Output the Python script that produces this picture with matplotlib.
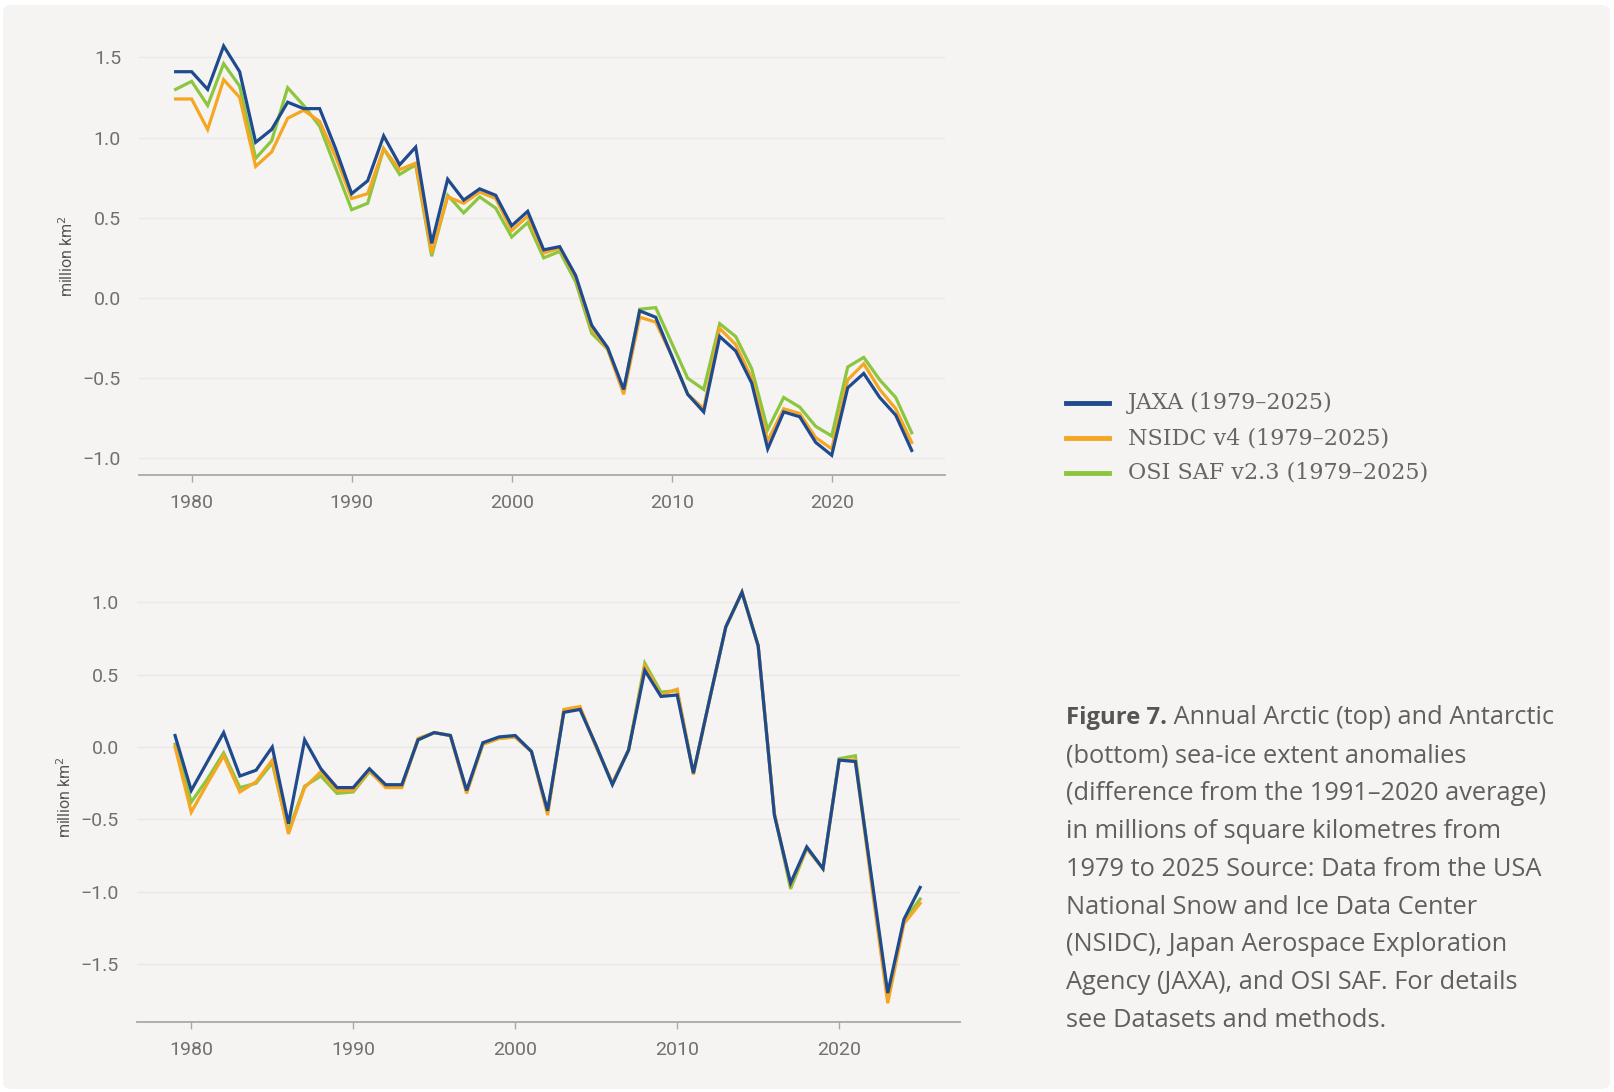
import numpy as np
import matplotlib
matplotlib.use("Agg")
import matplotlib.pyplot as plt
from matplotlib.patches import FancyBboxPatch
from matplotlib.lines import Line2D

# annual sea-ice extent anomalies, million km2
years = np.arange(1979, 2026)

arctic_jaxa = [1.41, 1.41, 1.30, 1.57, 1.41, 0.97, 1.05, 1.22, 1.18, 1.18,
               0.93, 0.65, 0.73, 1.01, 0.83, 0.94, 0.34, 0.74, 0.61, 0.68,
               0.64, 0.45, 0.54, 0.30, 0.32, 0.14, -0.17, -0.31, -0.57, -0.08,
               -0.12, -0.36, -0.60, -0.71, -0.24, -0.33, -0.53, -0.94, -0.71, -0.74,
               -0.90, -0.98, -0.56, -0.47, -0.62, -0.73, -0.95]
arctic_nsidc = [1.24, 1.24, 1.05, 1.36, 1.25, 0.82, 0.91, 1.12, 1.17, 1.10,
                0.88, 0.62, 0.65, 0.93, 0.80, 0.84, 0.28, 0.63, 0.59, 0.66,
                0.62, 0.42, 0.51, 0.28, 0.31, 0.13, -0.19, -0.32, -0.60, -0.12,
                -0.15, -0.36, -0.60, -0.69, -0.19, -0.29, -0.50, -0.89, -0.69, -0.72,
                -0.87, -0.94, -0.51, -0.41, -0.57, -0.69, -0.90]
arctic_osisaf = [1.30, 1.35, 1.20, 1.46, 1.32, 0.87, 0.98, 1.31, 1.20, 1.07,
                 0.81, 0.55, 0.59, 0.93, 0.77, 0.83, 0.26, 0.64, 0.53, 0.63,
                 0.56, 0.38, 0.47, 0.25, 0.29, 0.10, -0.22, -0.32, -0.58, -0.07,
                 -0.06, -0.28, -0.50, -0.57, -0.16, -0.24, -0.44, -0.82, -0.62, -0.68,
                 -0.80, -0.86, -0.43, -0.37, -0.51, -0.62, -0.84]

antarctic_jaxa = [0.08, -0.30, -0.10, 0.10, -0.20, -0.16, 0.00, -0.53, 0.05, -0.15,
                  -0.28, -0.28, -0.15, -0.26, -0.26, 0.05, 0.10, 0.08, -0.30, 0.03,
                  0.07, 0.08, -0.03, -0.44, 0.24, 0.26, 0.01, -0.26, -0.02, 0.53,
                  0.35, 0.36, -0.18, 0.33, 0.83, 1.07, 0.70, -0.47, -0.94, -0.69,
                  -0.84, -0.09, -0.10, -0.90, -1.70, -1.19, -0.97]
antarctic_nsidc = [0.00, -0.45, -0.25, -0.06, -0.31, -0.24, -0.09, -0.60, -0.28, -0.17,
                   -0.30, -0.30, -0.16, -0.28, -0.28, 0.06, 0.10, 0.08, -0.32, 0.02,
                   0.06, 0.07, -0.03, -0.47, 0.26, 0.28, 0.00, -0.25, -0.02, 0.56,
                   0.36, 0.40, -0.19, 0.33, 0.83, 1.07, 0.70, -0.46, -0.95, -0.70,
                   -0.84, -0.09, -0.09, -0.95, -1.77, -1.22, -1.08]
antarctic_osisaf = [0.02, -0.38, -0.22, -0.04, -0.28, -0.25, -0.11, -0.58, -0.27, -0.20,
                    -0.32, -0.31, -0.17, -0.27, -0.27, 0.05, 0.10, 0.08, -0.31, 0.02,
                    0.06, 0.07, -0.03, -0.45, 0.25, 0.27, 0.00, -0.25, -0.02, 0.58,
                    0.38, 0.39, -0.18, 0.33, 0.83, 1.07, 0.70, -0.46, -0.98, -0.70,
                    -0.84, -0.08, -0.06, -0.92, -1.74, -1.20, -1.05]

series_names = ["JAXA (1979\u20132025)", "NSIDC v4 (1979\u20132025)", "OSI SAF v2.3 (1979\u20132025)"]
series_colors = ["#1f4b8e", "#f5a623", "#8cc63f"]

xticks = [1980, 1990, 2000, 2010, 2020]
top_yticks = [-1.0, -0.5, 0.0, 0.5, 1.0, 1.5]
bot_yticks = [-1.5, -1.0, -0.5, 0.0, 0.5, 1.0]

caption_bold = "Figure 7."
caption_lines = [
    " Annual Arctic (top) and Antarctic",
    "(bottom) sea-ice extent anomalies",
    "(difference from the 1991\u20132020 average)",
    "in millions of square kilometres from",
    "1979 to 2025 Source: Data from the USA",
    "National Snow and Ice Data Center",
    "(NSIDC), Japan Aerospace Exploration",
    "Agency (JAXA), and OSI SAF. For details",
    "see Datasets and methods.",
]

W, H = 1614, 1092
bg = "#f5f4f2"
tickfont = "Roboto"
capfont = "Open Sans"

fig = plt.figure(figsize=(W / 100, H / 100), dpi=100)
fig.patch.set_facecolor("white")
card = FancyBboxPatch((3 / W, 3 / H), (W - 7) / W, (H - 8) / H,
                      boxstyle="round,pad=0,rounding_size=0.006",
                      transform=fig.transFigure, facecolor=bg, edgecolor="none", zorder=-10)
fig.patches.append(card)


def style_axes(ax, yticks, ylim, xlim):
    ax.set_facecolor("none")
    ax.set_xlim(*xlim)
    ax.set_ylim(*ylim)
    ax.set_yticks(yticks)
    ax.set_yticklabels(["%.1f" % v if v >= 0 else "\u2212%.1f" % -v for v in yticks])
    ax.set_xticks(xticks)
    for s in ["top", "right", "left"]:
        ax.spines[s].set_visible(False)
    ax.spines["bottom"].set_color("#a8a8a8")
    ax.spines["bottom"].set_linewidth(1.3)
    ax.grid(axis="y", color="#e9e8e6", linewidth=1.0)
    ax.set_axisbelow(True)
    ax.tick_params(axis="y", length=0, pad=13, labelsize=14, labelcolor="#707070")
    ax.tick_params(axis="x", length=5, width=1, color="#a8a8a8", pad=9,
                   labelsize=14, labelcolor="#707070")
    for lab in ax.get_xticklabels() + ax.get_yticklabels():
        lab.set_fontfamily(tickfont)
    ax.set_ylabel("million km$^2$", fontsize=11.5, color="#555555", labelpad=5,
                  fontfamily=tickfont)


ax1 = fig.add_axes([139 / W, 1 - 475 / H, 806 / W, (475 - 38) / H])
for vals, c in zip([arctic_osisaf, arctic_nsidc, arctic_jaxa], series_colors[::-1]):
    ax1.plot(years, vals, color=c, linewidth=2.3, solid_joinstyle="miter")
style_axes(ax1, top_yticks, (-1.103, 1.62), (1976.71, 2027.08))

ax2 = fig.add_axes([137 / W, 1 - 1022 / H, 823 / W, (1022 - 572) / H])
for vals, c in zip([antarctic_osisaf, antarctic_nsidc, antarctic_jaxa], series_colors[::-1]):
    ax2.plot(years, vals, color=c, linewidth=2.3, solid_joinstyle="miter")
style_axes(ax2, bot_yticks, (-1.90, 1.21), (1976.65, 2027.46))

# legend drawn by hand to the right of the top chart
leg_y = [403, 438, 473]
for name, c, yy in zip(series_names, series_colors, leg_y):
    fig.add_artist(Line2D([1066 / W, 1109 / W], [1 - yy / H, 1 - yy / H],
                          transform=fig.transFigure, color=c, linewidth=3.5))
    fig.text(1128 / W, 1 - yy / H, name, fontsize=16, color="#666666",
             fontfamily="DejaVu Serif", va="center", ha="left")

# caption
cap_x = 1066 / W
cap_y0 = 718
cap_dy = 37.8
cap_size = 18.3
renderer = fig.canvas.get_renderer()
t_bold = fig.text(cap_x, 1 - cap_y0 / H, caption_bold, fontsize=17.2, fontweight="bold",
                  color="#555555", fontfamily=capfont, va="center", ha="left")
bb = t_bold.get_window_extent(renderer=renderer)
fig.text(bb.x1 / W, 1 - cap_y0 / H, caption_lines[0], fontsize=cap_size, color="#5f5f5f",
         fontfamily=capfont, va="center", ha="left")
for i, line in enumerate(caption_lines[1:], start=1):
    fig.text(cap_x, 1 - (cap_y0 + i * cap_dy) / H, line, fontsize=cap_size, color="#5f5f5f",
             fontfamily=capfont, va="center", ha="left")

fig.savefig("out.png", dpi=100, facecolor=fig.get_facecolor())
